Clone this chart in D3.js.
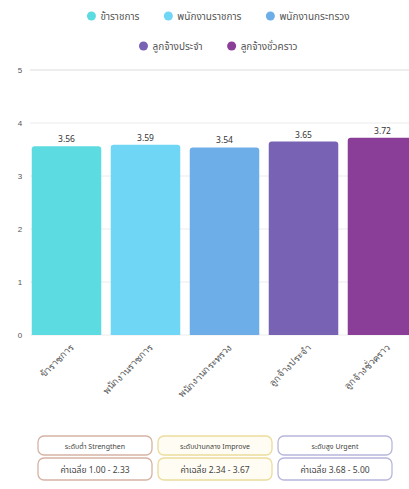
<!DOCTYPE html>
<html>
<head>
<meta charset="utf-8">
<script src="https://cdn.jsdelivr.net/npm/d3@7"></script>
<style>
  html, body { margin: 0; padding: 0; background: #ffffff; }
  svg { display: block; font-family: "Noto Sans Thai", "Noto Sans", "DejaVu Sans", sans-serif; }
</style>
</head>
<body>
<svg id="chart" width="409" height="489"></svg>
<script>
// Staff groups and their mean scores
const categories = ["ข้าราชการ", "พนักงานราชการ", "พนักงานกระทรวง", "ลูกจ้างประจำ", "ลูกจ้างชั่วคราว"];
const values = [3.56, 3.59, 3.54, 3.65, 3.72];
const colors = ["#5cdce0", "#6fd6f6", "#6eaee8", "#7862b4", "#8b3e98"];
const yTicks = [0, 1, 2, 3, 4, 5];

// Interpretation bands shown under the chart
const bandTitles = ["ระดับต่ำ Strengthen", "ระดับปานกลาง Improve", "ระดับสูง Urgent"];
const bandRanges = ["ค่าเฉลี่ย 1.00 - 2.33", "ค่าเฉลี่ย 2.34 - 3.67", "ค่าเฉลี่ย 3.68 - 5.00"];
const bandBorders = ["#d6b3a4", "#ecdc9c", "#b8b7dc"];
const bandFills = ["#ffffff", "#fffdf3", "#ffffff"];

const svg = d3.select("#chart");

const x = d3.scaleBand()
  .domain(categories)
  .range([27, 422])
  .paddingInner(0.12)
  .paddingOuter(0.06);

const y = d3.scaleLinear()
  .domain([0, 5])
  .range([335, 70]);

// Grid lines
svg.append("g")
  .selectAll("line")
  .data(yTicks)
  .join("line")
  .attr("x1", 30)
  .attr("x2", 409)
  .attr("y1", d => y(d))
  .attr("y2", d => y(d))
  .attr("stroke", d => d === 5 ? "#dcdcdc" : "#ececec")
  .attr("stroke-width", 1);

// Y axis labels
const yAxis = d3.axisLeft(y).tickValues(yTicks).tickFormat(d3.format("d")).tickSize(0).tickPadding(0);
svg.append("g")
  .attr("transform", "translate(20,0)")
  .call(yAxis)
  .call(g => g.select(".domain").remove())
  .call(g => g.selectAll("text")
    .attr("fill", "#555")
    .attr("font-size", 8)
    .attr("text-anchor", "middle"));

// Bars with rounded top corners
function barPath(x0, y0, w, h, r) {
  return `M${x0},${y0 + h}V${y0 + r}Q${x0},${y0} ${x0 + r},${y0}H${x0 + w - r}Q${x0 + w},${y0} ${x0 + w},${y0 + r}V${y0 + h}Z`;
}

svg.append("g")
  .selectAll("path")
  .data(categories)
  .join("path")
  .attr("d", (d, i) => barPath(x(d), y(values[i]), x.bandwidth(), y(0) - y(values[i]), 3))
  .attr("fill", (d, i) => colors[i]);

// Value labels
svg.append("g")
  .selectAll("text")
  .data(categories)
  .join("text")
  .attr("x", d => x(d) + x.bandwidth() / 2)
  .attr("y", (d, i) => y(values[i]) - 4)
  .attr("text-anchor", "middle")
  .attr("font-size", 8.5)
  .attr("fill", "#333")
  .text((d, i) => values[i].toFixed(2));

// X axis labels, rotated
const xAxis = d3.axisBottom(x).tickSize(0).tickPadding(0);
svg.append("g")
  .attr("transform", `translate(0,${y(0)})`)
  .call(xAxis)
  .call(g => g.select(".domain").remove())
  .call(g => g.selectAll("text")
    .attr("fill", "#555")
    .attr("font-size", 9.5)
    .attr("text-anchor", "end")
    .attr("dy", 0)
    .attr("transform", "translate(8,13) rotate(-45)"));

// Legend
const legendRows = [[0, 1, 2], [3, 4]];
legendRows.forEach((row, r) => {
  const gRow = svg.append("g");
  let cx = 0;
  row.forEach(i => {
    const item = gRow.append("g").attr("transform", `translate(${cx},0)`);
    item.append("circle").attr("cx", 4).attr("cy", 0).attr("r", 4.5).attr("fill", colors[i]);
    const t = item.append("text")
      .attr("x", 13).attr("y", 3.5)
      .attr("font-size", 10)
      .attr("fill", "#555")
      .text(categories[i]);
    const w = 13 + t.node().getComputedTextLength();
    cx += w + 25;
  });
  const total = cx - 25;
  gRow.attr("transform", `translate(${(409 - total) / 2 + 14},${r === 0 ? 16 : 46})`);
});

// Interpretation boxes
const boxX = [38, 158, 278];
const boxW = 114;
bandTitles.forEach((title, i) => {
  const g = svg.append("g").attr("transform", `translate(${boxX[i]},0)`);
  g.append("rect")
    .attr("x", 0).attr("y", 436).attr("width", boxW).attr("height", 19)
    .attr("rx", 6)
    .attr("fill", bandFills[i]).attr("stroke", bandBorders[i]).attr("stroke-width", 1.3);
  g.append("rect")
    .attr("x", 0).attr("y", 458).attr("width", boxW).attr("height", 22)
    .attr("rx", 6)
    .attr("fill", bandFills[i]).attr("stroke", bandBorders[i]).attr("stroke-width", 1.3);
  g.append("text")
    .attr("x", boxW / 2).attr("y", 448.5)
    .attr("text-anchor", "middle").attr("font-size", 7)
    .attr("fill", "#444")
    .text(title);
  g.append("text")
    .attr("x", boxW / 2).attr("y", 472.5)
    .attr("text-anchor", "middle").attr("font-size", 8.5)
    .attr("fill", "#444")
    .text(bandRanges[i]);
});
</script>
</body>
</html>
